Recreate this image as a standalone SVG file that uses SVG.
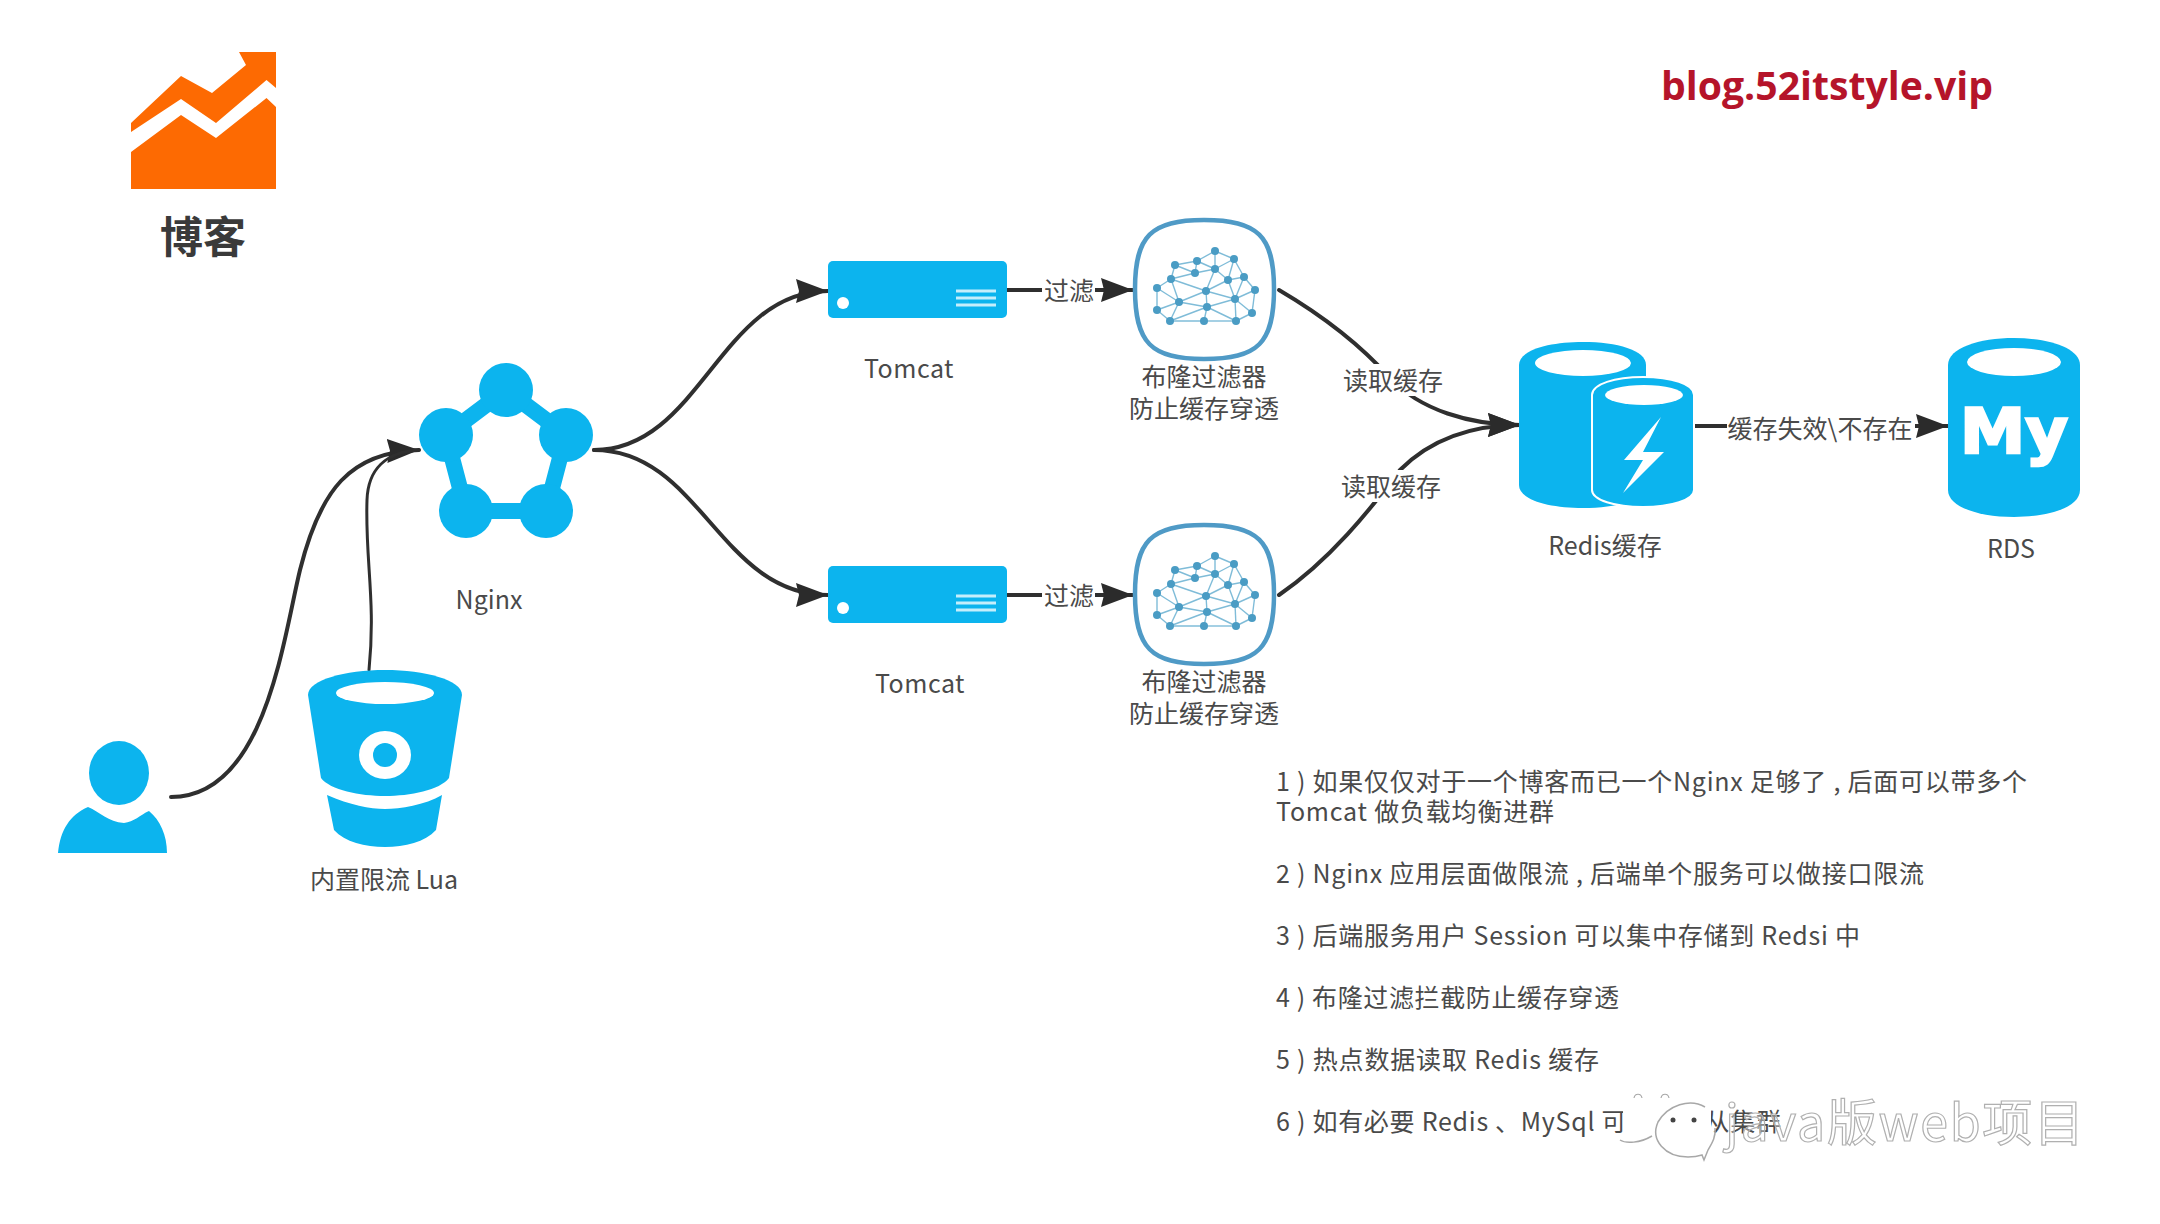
<svg xmlns="http://www.w3.org/2000/svg" width="2160" height="1224" viewBox="0 0 2160 1224">
<defs>
<style>
.b{fill:#0cb4ee}
.w{fill:#fff}
.t{font-family:"Noto Sans CJK SC","Liberation Sans",sans-serif;font-size:25px;fill:#4a4a4a;text-anchor:middle;dominant-baseline:central}
.n{font-family:"Noto Sans CJK SC","Liberation Sans",sans-serif;font-size:25px;fill:#4a4a4a;dominant-baseline:central}
.c{fill:none;stroke:#2f2f2f;stroke-width:4;stroke-linecap:round}
.a{marker-end:url(#ah)}
.net line{stroke:#7fbcd8;stroke-width:1.4}
.net circle{fill:#4a9cc4;r:4px}
</style>
<marker id="ah" markerUnits="userSpaceOnUse" markerWidth="34" markerHeight="26" refX="32" refY="13" orient="auto"><path d="M0 1L32 13L0 25L3 13Z" fill="#2b2b2b"/></marker>
<g id="net-shape" class="net">
<line x1="1215" y1="251" x2="1234" y2="259"/><line x1="1215" y1="251" x2="1197" y2="261"/><line x1="1215" y1="251" x2="1215" y2="269"/><line x1="1197" y1="261" x2="1175" y2="265"/><line x1="1197" y1="261" x2="1215" y2="269"/><line x1="1197" y1="261" x2="1195" y2="273"/><line x1="1234" y1="259" x2="1215" y2="269"/><line x1="1234" y1="259" x2="1244" y2="277"/><line x1="1234" y1="259" x2="1228" y2="280"/><line x1="1175" y1="265" x2="1195" y2="273"/><line x1="1175" y1="265" x2="1171" y2="279"/><line x1="1215" y1="269" x2="1195" y2="273"/><line x1="1215" y1="269" x2="1206" y2="291"/><line x1="1215" y1="269" x2="1228" y2="280"/><line x1="1195" y1="273" x2="1171" y2="279"/><line x1="1171" y1="279" x2="1157" y2="288"/><line x1="1171" y1="279" x2="1206" y2="291"/><line x1="1171" y1="279" x2="1179" y2="302"/><line x1="1228" y1="280" x2="1206" y2="291"/><line x1="1228" y1="280" x2="1235" y2="299"/><line x1="1228" y1="280" x2="1244" y2="277"/><line x1="1244" y1="277" x2="1255" y2="290"/><line x1="1244" y1="277" x2="1235" y2="299"/><line x1="1255" y1="290" x2="1235" y2="299"/><line x1="1255" y1="290" x2="1252" y2="313"/><line x1="1157" y1="288" x2="1179" y2="302"/><line x1="1157" y1="288" x2="1157" y2="310"/><line x1="1206" y1="291" x2="1179" y2="302"/><line x1="1206" y1="291" x2="1207" y2="307"/><line x1="1206" y1="291" x2="1235" y2="299"/><line x1="1179" y1="302" x2="1207" y2="307"/><line x1="1179" y1="302" x2="1157" y2="310"/><line x1="1179" y1="302" x2="1170" y2="321"/><line x1="1235" y1="299" x2="1207" y2="307"/><line x1="1235" y1="299" x2="1252" y2="313"/><line x1="1235" y1="299" x2="1236" y2="321"/><line x1="1207" y1="307" x2="1204" y2="321"/><line x1="1207" y1="307" x2="1170" y2="321"/><line x1="1207" y1="307" x2="1236" y2="321"/><line x1="1157" y1="310" x2="1170" y2="321"/><line x1="1252" y1="313" x2="1236" y2="321"/><line x1="1170" y1="321" x2="1204" y2="321"/><line x1="1204" y1="321" x2="1236" y2="321"/>
<circle cx="1215" cy="251"/><circle cx="1234" cy="259"/><circle cx="1197" cy="261"/><circle cx="1175" cy="265"/><circle cx="1215" cy="269"/><circle cx="1195" cy="273"/><circle cx="1171" cy="279"/><circle cx="1228" cy="280"/><circle cx="1244" cy="277"/><circle cx="1157" cy="288"/><circle cx="1255" cy="290"/><circle cx="1206" cy="291"/><circle cx="1235" cy="299"/><circle cx="1179" cy="302"/><circle cx="1207" cy="307"/><circle cx="1157" cy="310"/><circle cx="1252" cy="313"/><circle cx="1170" cy="321"/><circle cx="1204" cy="321"/><circle cx="1236" cy="321"/>
</g>
<g id="filter-shape"><path d="M1204 220C1258 220 1274 236 1274 289C1274 343 1258 359 1204 359C1151 359 1135 343 1135 289C1135 236 1151 220 1204 220Z" fill="#fff" stroke="#4f9ac6" stroke-width="4.500"/><use href="#net-shape"/></g>
<g id="server-shape"><rect x="828" y="261" width="179" height="57" rx="5" class="b"/><circle cx="843" cy="303" r="6" class="w"/><path d="M956 291H996M956 298H996M956 305H996" stroke="#c5eefb" stroke-width="3"/></g>
</defs>
<rect width="2160" height="1224" fill="#fff"/>
<g id="connectors">
<path class="c a" d="M171 797C265 797 283 640 300 570C320 490 350 452 419 450"/>
<path class="c" stroke-width="3" style="stroke-width:3" d="M369 670C376 600 365 560 367 500C368 470 385 452 419 450"/>
<path class="c a" d="M594 450C700 450 720 291 828 291"/>
<path class="c a" d="M594 450C700 450 720 595 828 595"/>
<path class="c a" d="M1007 290H1133"/>
<path class="c a" d="M1007 595H1133"/>
<path class="c a" d="M1279 290C1330 320 1365 350 1390 378C1420 410 1470 425 1520 425"/>
<path class="c a" d="M1279 595C1330 560 1370 510 1400 470C1430 440 1470 425 1520 425"/>
<path class="c a" d="M1694 426H1948"/>
<g id="connector-labels">
<rect x="1042" y="272" width="53" height="36" class="w"/><text x="1069" y="288.500" class="t">过滤</text>
<rect x="1042" y="577" width="53" height="36" class="w"/><text x="1069" y="593.500" class="t">过滤</text>
<rect x="1342" y="364" width="102" height="32" class="w"/><text x="1393" y="378.500" class="t">读取缓存</text>
<rect x="1340" y="470" width="102" height="32" class="w"/><text x="1391" y="484.500" class="t">读取缓存</text>
<rect x="1727" y="410" width="188" height="34" class="w"/><text x="1820" y="426.500" class="t">缓存失效\不存在</text>
</g>
</g>
<g id="blog"><path d="M131 123L181 76L212 93L246 65L239 52H276V88L266.500 80L216 123L181 99L131 132Z" fill="#fd6a02"/><path d="M131 152L181 115L216 138L266.500 98L276 107V189H131Z" fill="#fd6a02"/>
<text x="203" y="234" text-anchor="middle" dominant-baseline="central" font-family="Noto Sans CJK SC,sans-serif" font-weight="700" font-size="43" fill="#3a3a3a">博客</text></g>
<text x="1827" y="84" text-anchor="middle" dominant-baseline="central" font-family="Open Sans,Liberation Sans,sans-serif" font-weight="700" font-size="40" textLength="332" lengthAdjust="spacingAndGlyphs" fill="#b5142a">blog.52itstyle.vip</text>
<g id="user"><ellipse cx="119" cy="773" rx="30" ry="32" class="b"/><path d="M58 853C60 830 70 815 88 807C100 812 108 822 124 823C134 822 140 815 149 811C160 820 167 835 167 853Z" class="b"/></g>
<g id="lua"><path d="M308 695C308 680 345 670 385 670C425 670 462 680 462 695L449 778C440 790 410 796 385 796C360 796 330 790 321 778Z" class="b"/><ellipse cx="385" cy="693" rx="49" ry="11" class="w"/><ellipse cx="385" cy="755" rx="26" ry="24" class="w"/><ellipse cx="385" cy="755" rx="12" ry="12" class="b"/><path d="M327 795C350 805 370 809 385 809C400 809 425 805 442 795L436 830C425 842 405 847 385 847C365 847 345 842 334 830Z" class="b"/><text x="384" y="877.500" class="t">内置限流 Lua</text></g>
<g id="nginx"><path d="M506 390L566 435L546 511H466L446 435Z" fill="none" stroke="#0cb4ee" stroke-width="16"/><circle cx="506" cy="390" r="27" class="b"/><circle cx="446" cy="435" r="27" class="b"/><circle cx="566" cy="435" r="27" class="b"/><circle cx="466" cy="511" r="27" class="b"/><circle cx="546" cy="511" r="27" class="b"/><text x="489" y="597.500" class="t">Nginx</text></g>
<g id="tomcat1"><use href="#server-shape"/><text x="909" y="366.500" class="t" letter-spacing=".5">Tomcat</text></g>
<g id="tomcat2"><use href="#server-shape" y="305"/><text x="920" y="681.500" class="t" letter-spacing=".5">Tomcat</text></g>
<g id="filter1"><use href="#filter-shape"/><text x="1204" y="374.500" class="t">布隆过滤器</text><text x="1204" y="406.500" class="t">防止缓存穿透</text></g>
<g id="filter2"><use href="#filter-shape" y="305"/><text x="1204" y="679.500" class="t">布隆过滤器</text><text x="1204" y="711.500" class="t">防止缓存穿透</text></g>
<g id="redis"><path d="M1519 365C1519 350 1549 342 1583 342C1617 342 1646 350 1646 365V485C1646 500 1617 508 1583 508C1549 508 1519 500 1519 485Z" class="b"/><ellipse cx="1583" cy="363" rx="48" ry="13" class="w"/><path d="M1592 395C1592 384 1615 377 1643 377C1671 377 1694 384 1694 395V490C1694 500 1671 507 1643 507C1615 507 1592 500 1592 490Z" class="b" stroke="#fff" stroke-width="2"/><ellipse cx="1644" cy="395" rx="39" ry="10" class="w"/><path d="M1661 417L1624 460H1643L1623 493L1664 452H1643Z" class="w"/><text x="1605" y="543.500" class="t">Redis缓存</text></g>
<g id="rds"><path d="M1948 365C1948 348 1979 338 2014 338C2049 338 2080 348 2080 365V490C2080 507 2049 517 2014 517C1979 517 1948 507 1948 490Z" class="b"/><ellipse cx="2014" cy="362" rx="47" ry="14" class="w"/><text x="2014" y="453" text-anchor="middle" font-family="DejaVu Sans,sans-serif" font-weight="700" font-size="62" textLength="108" lengthAdjust="spacingAndGlyphs" fill="#fff" stroke="#fff" stroke-width="2.500">My</text><text x="2011" y="546.500" class="t">RDS</text></g>
<g id="notes">
<text x="1276" y="779.500" class="n" textLength="751">1 ) 如果仅仅对于一个博客而已一个Nginx 足够了 , 后面可以带多个</text>
<text x="1276" y="809.500" class="n" textLength="278">Tomcat 做负载均衡进群</text>
<text x="1276" y="871.500" class="n" textLength="648">2 ) Nginx 应用层面做限流 , 后端单个服务可以做接口限流</text>
<text x="1276" y="933.500" class="n" textLength="584">3 ) 后端服务用户 Session 可以集中存储到 Redsi 中</text>
<text x="1276" y="995.500" class="n" textLength="343">4 ) 布隆过滤拦截防止缓存穿透</text>
<text x="1276" y="1057.500" class="n" textLength="323">5 ) 热点数据读取 Redis 缓存</text>
<text x="1276" y="1119.500" class="n" textLength="505">6 ) 如有必要 Redis 、MySql 可以做主从集群</text>
</g>
<g id="watermark" fill="none" stroke="#a8a8a8" stroke-width="1.500">
<path d="M1623 1098H1711V1142H1623Z" fill="#fff" stroke="none"/>
<path d="M1620 1140C1626 1144 1640 1143 1652 1136"/>
<path d="M1634 1098C1635 1093 1641 1093 1642 1098M1661 1098C1662 1093 1668 1093 1669 1098" stroke-width="1.200"/>
<path d="M1705 1107C1690 1098 1668 1105 1658 1122C1650 1140 1665 1157 1688 1157C1694 1157 1699 1156 1702 1155L1704 1160L1708 1150C1712 1143 1716 1137 1715 1128"/>
<circle cx="1673" cy="1120" r="2.500" fill="#444" stroke="none"/><circle cx="1694" cy="1120" r="2.500" fill="#444" stroke="none"/>
<text x="1725" y="1141" font-family="Noto Sans CJK SC,sans-serif" font-size="50" fill="#fff" fill-opacity=".35" stroke="#b0b0b0" stroke-width="1.200" textLength="359">java版web项目</text>
</g>
</svg>
